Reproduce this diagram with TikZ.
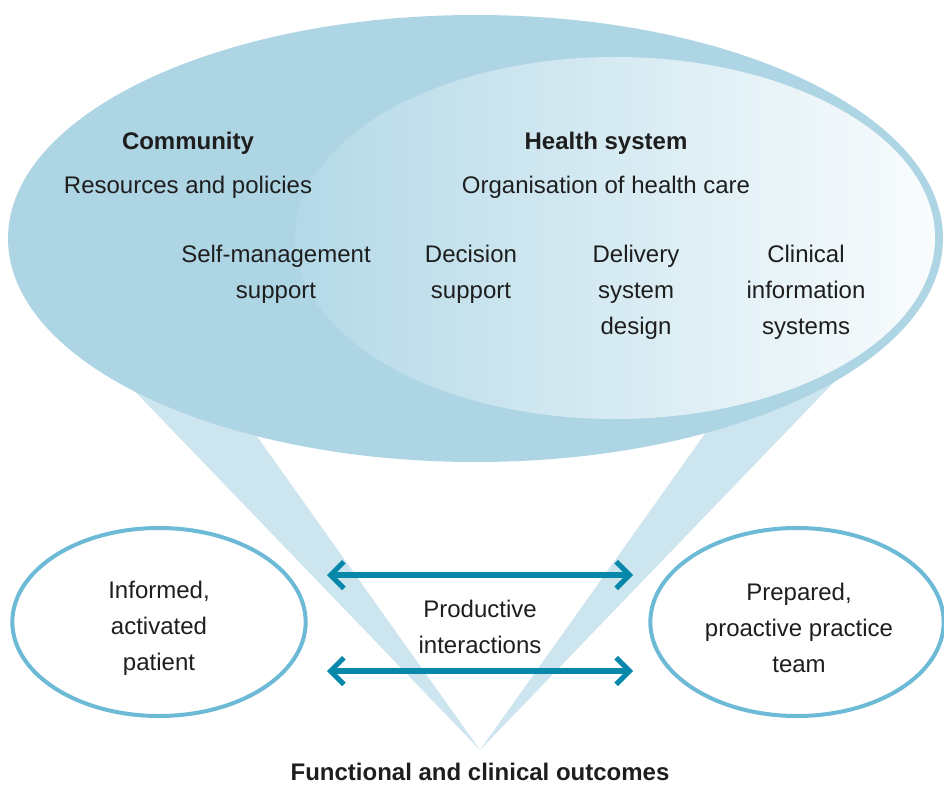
\documentclass[tikz,border=0pt]{standalone}
\usepackage{fontspec}
\setmainfont{Liberation Sans}
\usetikzlibrary{shapes.geometric,arrows.meta}

\definecolor{bigblue}{HTML}{AED5E4}
\definecolor{bandblue}{HTML}{CDE5EE}
\definecolor{innerleft}{HTML}{B4D9E7}
\definecolor{innerright}{HTML}{F9FCFD}
\definecolor{ringblue}{HTML}{6CBAD6}
\definecolor{arrowblue}{HTML}{0788AA}
\definecolor{textc}{HTML}{1E1E1E}

\tikzset{
  band/.style={fill=bandblue},
  blob/.style={ellipse, inner sep=0pt, outer sep=0pt},
  party/.style={ellipse, draw=ringblue, line width=3pt, fill=white,
    inner sep=0pt, minimum width=220pt, minimum height=141pt},
  label/.style={align=center, text=textc, font=\fontsize{18}{27}\selectfont},
  heading/.style={align=center, text=textc, font=\fontsize{18}{27}\selectfont\bfseries},
  interaction/.style={draw=arrowblue, line width=3.8pt, <->,
    >={Straight Barb[length=10pt,width=20pt]}}
}

\begin{document}
\begin{tikzpicture}[x=0.75pt,y=-0.75pt]
\useasboundingbox (0,0) rectangle (944,784);

% funnel bands converging on the outcomes
\fill[band] (480,750) -- (47,300) -- (160,300) -- cycle;
\fill[band] (480,750) -- (913,300) -- (800,300) -- cycle;

% community and health system
\node[blob, fill=bigblue, minimum width=701.25pt, minimum height=335.25pt]
  (community) at (475.5,238.5) {};
\node[blob, left color=innerleft, right color=innerright,
  minimum width=480pt, minimum height=271.5pt]
  (health) at (615,238) {};

\node[heading] (commtitle) at (188,143) {Community};
\node[label] (resources) at (188,187) {Resources and policies};
\node[heading] (hstitle) at (606,143) {Health system};
\node[label] (organisation) at (606,187) {Organisation of health care};

\node[label] (selfman) at (276,274) {Self-management\\support};
\node[label] (decision) at (471,274) {Decision\\support};
\node[label] (delivery) at (636,292) {Delivery\\system\\design};
\node[label] (clinical) at (806,292) {Clinical\\information\\systems};

% patient and practice team
\node[party] (patient) at (159,622) {};
\node[party] (team) at (797,622) {};
\node[label] (patienttext) at (159,628) {Informed,\\activated\\patient};
\node[label] (teamtext) at (799,628) {Prepared,\\proactive practice\\team};

% productive interactions
\coordinate (topL) at (327,575);
\coordinate (topR) at (633,575);
\coordinate (botL) at (327,671);
\coordinate (botR) at (633,671);
\draw[interaction] (topL) -- (topR);
\draw[interaction] (botL) -- (botR);
\node[label] (productive) at (480,627) {Productive\\interactions};

\node[heading, inner sep=0pt] (outcomes) at (480,772) {Functional and clinical outcomes};
\end{tikzpicture}
\end{document}
